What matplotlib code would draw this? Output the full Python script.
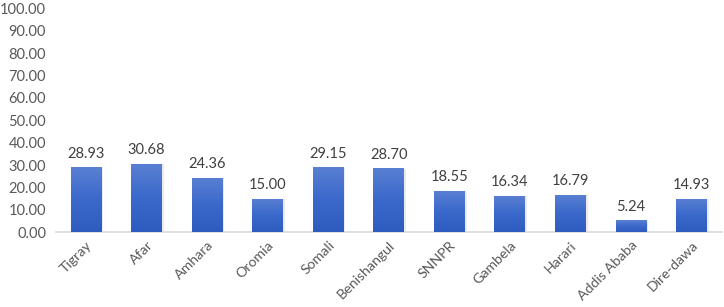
import matplotlib
matplotlib.use("Agg")
import matplotlib.pyplot as plt
import numpy as np
from matplotlib.colors import LinearSegmentedColormap

regions = ["Tigray", "Afar", "Amhara", "Oromia", "Somali", "Benishangul",
           "SNNPR", "Gambela", "Harari", "Addis Ababa", "Dire-dawa"]
values = [28.93, 30.68, 24.36, 15.00, 29.15, 28.70, 18.55, 16.34, 16.79, 5.24, 14.93]
yticks = [0, 10, 20, 30, 40, 50, 60, 70, 80, 90, 100]

plt.rcParams['font.family'] = ['Lato', 'DejaVu Sans']
fig = plt.figure(figsize=(7.24, 3.07), dpi=100)
ax = fig.add_axes([0.077, 0.244, 0.92, 0.728])

x = np.arange(len(regions))
w = 0.51
bars = ax.bar(x, values, width=w, color="#4472C4", zorder=2)
cmap = LinearSegmentedColormap.from_list("g", ["#2E5BBF", "#3A69CB", "#5A80D2"])
grad = np.linspace(0, 1, 256).reshape(-1, 1)
for b in bars:
    x0, y0 = b.get_x(), b.get_y()
    bw, bh = b.get_width(), b.get_height()
    ax.bar(x0 + bw / 2 + 0.03, bh, width=bw, bottom=-0.3, color="#d8d8d8", alpha=0.5, zorder=1)
    im = ax.imshow(grad, extent=[x0, x0 + bw, y0, y0 + bh], origin="lower",
                   cmap=cmap, aspect="auto", zorder=3)
    im.set_clip_path(b)
    b.set_alpha(0)

for xi, v in zip(x, values):
    ax.text(xi, v + 2.8, f"{v:.2f}", ha="center", va="bottom", fontsize=10.5, color="#404040")

ax.set_xlim(-0.5, len(regions) - 0.5)
ax.set_ylim(0, 100)
ax.set_yticks(yticks)
ax.set_yticklabels([f"{t:.2f}" for t in yticks], fontsize=10.5, color="#595959")
ax.set_xticks(x)
ax.set_xticklabels(regions, rotation=45, ha="right", rotation_mode="anchor",
                   fontsize=10.2, color="#595959")
for s in ["top", "right", "left"]:
    ax.spines[s].set_visible(False)
ax.spines["bottom"].set_color("#D9D9D9")
ax.spines["bottom"].set_linewidth(1.2)
ax.tick_params(axis="both", length=0)
ax.tick_params(axis="y", pad=7)
ax.tick_params(axis="x", pad=5)

fig.savefig("out.png", dpi=100)
